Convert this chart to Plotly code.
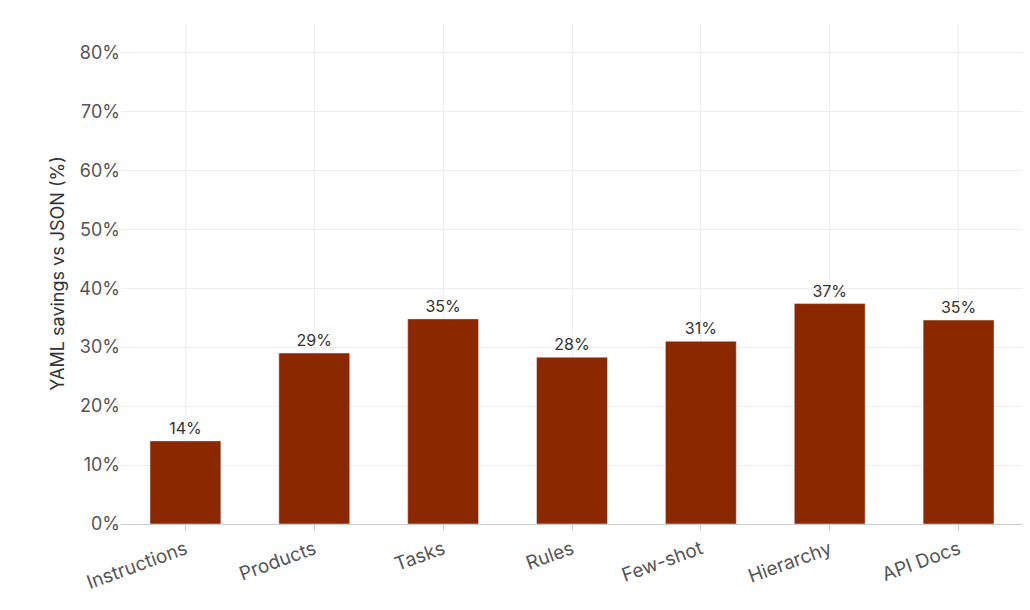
import plotly.graph_objects as go

categories = ["Instructions", "Products", "Tasks", "Rules", "Few-shot", "Hierarchy", "API Docs"]
savings = [14.1, 29.0, 34.8, 28.3, 31.0, 37.4, 34.6]
labels = [f"{round(v)}%" for v in savings]
ytick_vals = [0, 10, 20, 30, 40, 50, 60, 70, 80]
ytick_text = [f"{v}%" for v in ytick_vals]

fig = go.Figure(go.Bar(
    x=categories,
    y=savings,
    text=labels,
    textposition="outside",
    textfont=dict(size=16, color="#333333"),
    marker_color="#8B2800",
    width=0.55,
    cliponaxis=False,
))

fig.update_layout(
    width=1030, height=610,
    margin=dict(l=113, r=15, t=15, b=94),
    plot_bgcolor="white", paper_bgcolor="white",
    font=dict(family="Inter", size=18, color="#555555"),
    showlegend=False,
)
fig.update_xaxes(tickangle=-20, ticks="outside", tickcolor="#cccccc", ticklen=6,
                 showline=True, linecolor="#cccccc", showgrid=True, gridcolor="#eeeeee",
                 tickfont=dict(size=19), automargin=False)
fig.update_yaxes(range=[0, 85], tickvals=ytick_vals, ticktext=ytick_text,
                 gridcolor="#eeeeee", zeroline=False, automargin=False,
                 title=dict(text="YAML savings vs JSON (%)", standoff=10,
                            font=dict(size=18, color="#333333")))

fig.write_html("out.html")
